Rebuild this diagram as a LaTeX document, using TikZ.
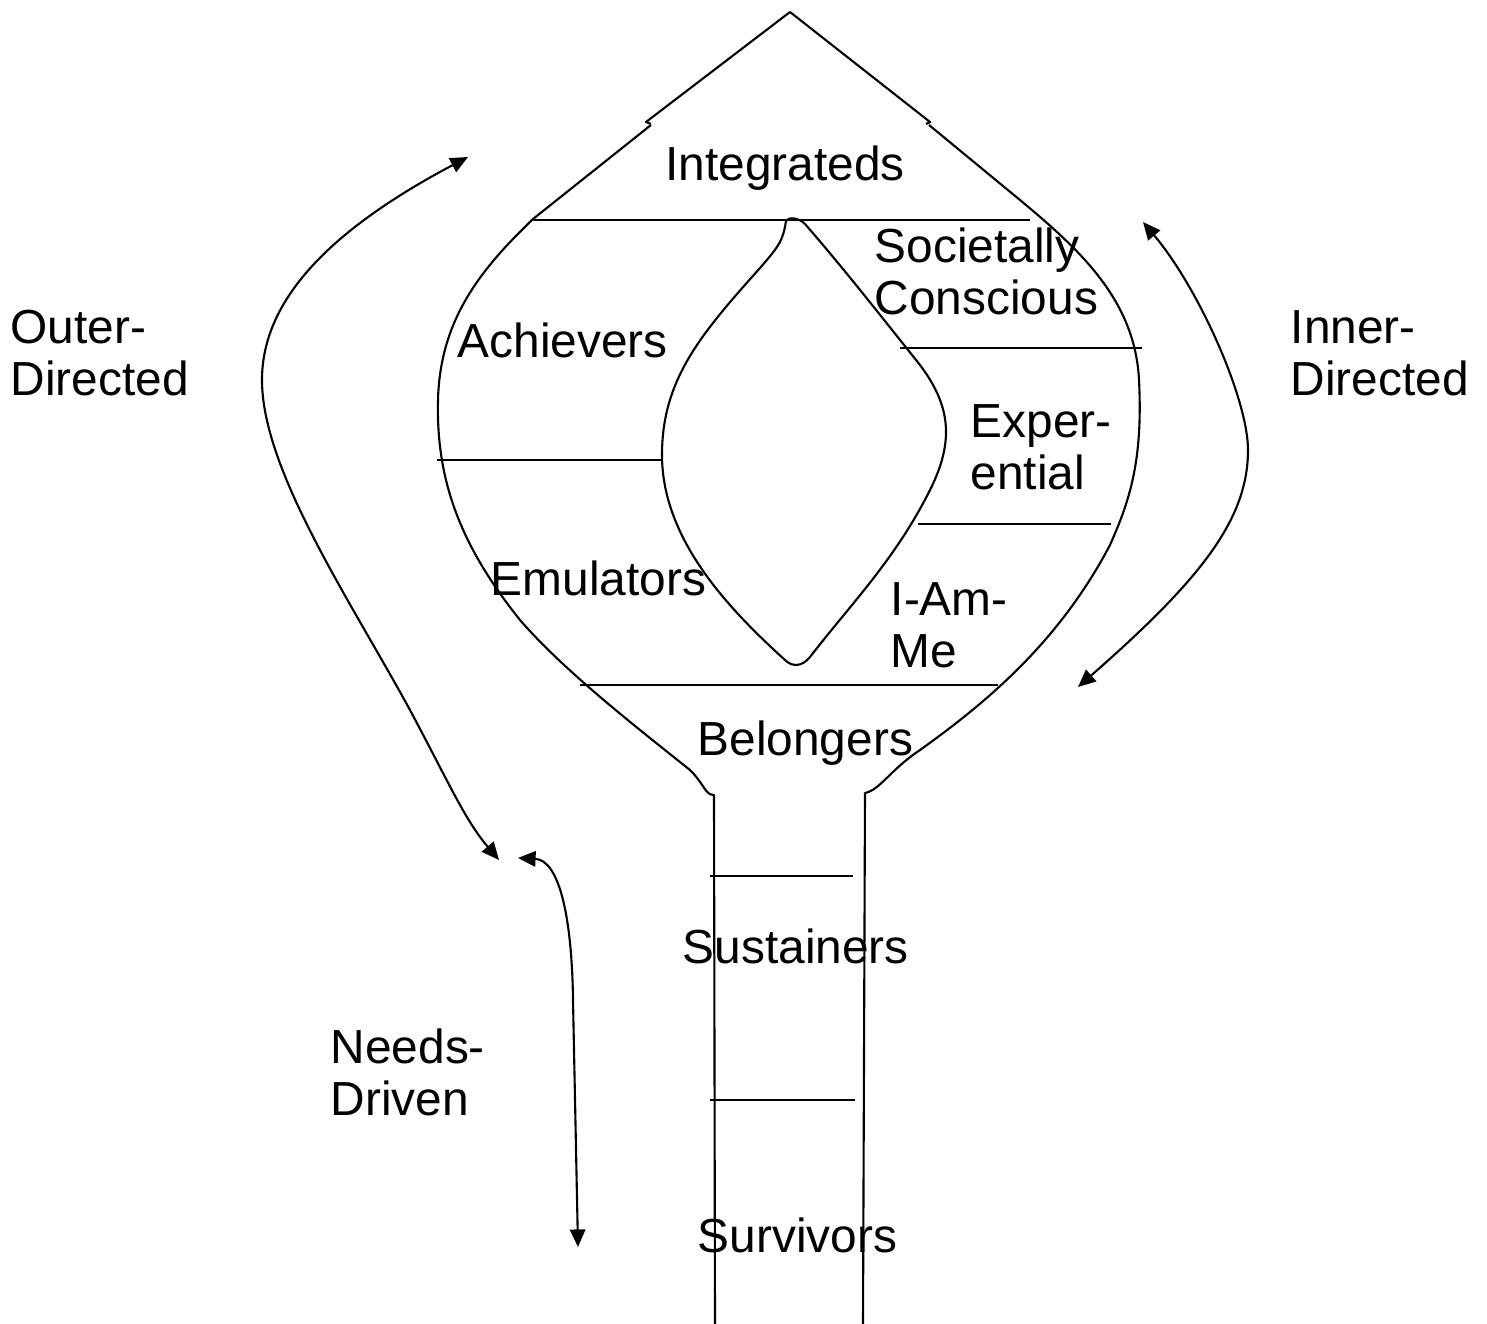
\documentclass[tikz,border=0pt]{standalone}
\usepackage{fontspec}
\setmainfont{Liberation Sans}
\usetikzlibrary{arrows.meta}
\begin{document}
\begin{tikzpicture}[x=0.01cm,y=-0.01cm,
  outline/.style={line width=0.6pt,line join=round},
  sep/.style={line width=0.6pt},
  dirarrow/.style={line width=0.6pt,{Triangle[length=5pt,width=4.4pt]}-{Triangle[length=5pt,width=4.4pt]}},
  lbl/.style={inner sep=0pt,font=\fontsize{13.6}{14.6}\selectfont},
  ml/.style={lbl,align=left,anchor=base west}]
\useasboundingbox (0,0) rectangle (1487,1324);
% bulb outline
\coordinate (apex) at (790,12);
\draw[outline] (apex) -- (646,122) -- (651,124);
\draw[outline] (651,125) -- (533,219) .. controls (480,270) and (440,320) .. (438,400)
  .. controls (436,480) and (460,545) .. (520,620)
  .. controls (565,672) and (640,730) .. (690,770)
  .. controls (705,785) and (705,795) .. (714,795) -- (715,1324);
\draw[outline] (apex) -- (930,122) -- (926,124);
\draw[outline] (929,125) -- (1020,200) .. controls (1080,250) and (1135,300) .. (1139,380)
  .. controls (1143,460) and (1130,500) .. (1110,545)
  .. controls (1060,640) and (990,700) .. (920,750)
  .. controls (890,770) and (880,790) .. (865,793) -- (863,1324);
% inner lens
\draw[outline] (786,221) .. controls (783,240) and (780,245) .. (760,268)
  .. controls (700,335) and (662,380) .. (662,455)
  .. controls (662,540) and (730,610) .. (785,660)
  .. controls (792,667) and (802,667) .. (810,657)
  .. controls (850,605) and (895,560) .. (930,490)
  .. controls (955,440) and (950,405) .. (920,365)
  .. controls (880,315) and (845,270) .. (805,224)
  .. controls (798,217) and (788,217) .. (786,221);
% separators
\draw[sep] (533,220) -- (1030,220);
\draw[sep] (900,348) -- (1142,348);
\draw[sep] (437,460) -- (662,460);
\draw[sep] (918,524) -- (1111,524);
\draw[sep] (580,685) -- (998,685);
\draw[sep] (710,876) -- (853,876);
\draw[sep] (710,1100) -- (855,1100);
% labels
\node[lbl,anchor=base] (integ) at (785,180) {Integrateds};
\node[ml] (soc) at (874,314) {Societally\\Conscious};
\node[lbl,anchor=base west] (ach) at (457,357) {Achievers};
\node[ml] (exp) at (970,489) {Exper-\\ential};
\node[lbl,anchor=base west] (emu) at (490,595) {Emulators};
\node[ml] (iam) at (890,667) {I-Am-\\Me};
\node[lbl,anchor=base west] (bel) at (697,755) {Belongers};
\node[lbl,anchor=base west] (sus) at (682,963) {Sustainers};
\node[lbl,anchor=base west] (sur) at (697,1252) {Survivors};
\node[ml] (outer) at (10,395) {Outer-\\Directed};
\node[ml] (inner) at (1290,395) {Inner-\\Directed};
\node[ml] (needs) at (330,1115) {Needs-\\Driven};
% arrows
\coordinate (oT) at (468,157);
\coordinate (oB) at (499,860);
\coordinate (iT) at (1143,222);
\coordinate (iB) at (1078,687);
\coordinate (nT) at (518,858);
\coordinate (nB) at (578,1247);
\draw[dirarrow] (oT) .. controls (330,230) and (262,300) .. (262,380)
  .. controls (262,470) and (350,600) .. (410,710)
  .. controls (450,785) and (465,820) .. (oB);
\draw[dirarrow] (iT) .. controls (1200,290) and (1248,400) .. (1248,450)
  .. controls (1248,520) and (1200,580) .. (iB);
\draw[dirarrow] (nT) .. controls (560,860) and (572,920) .. (573,1000) -- (nB);
\end{tikzpicture}
\end{document}
